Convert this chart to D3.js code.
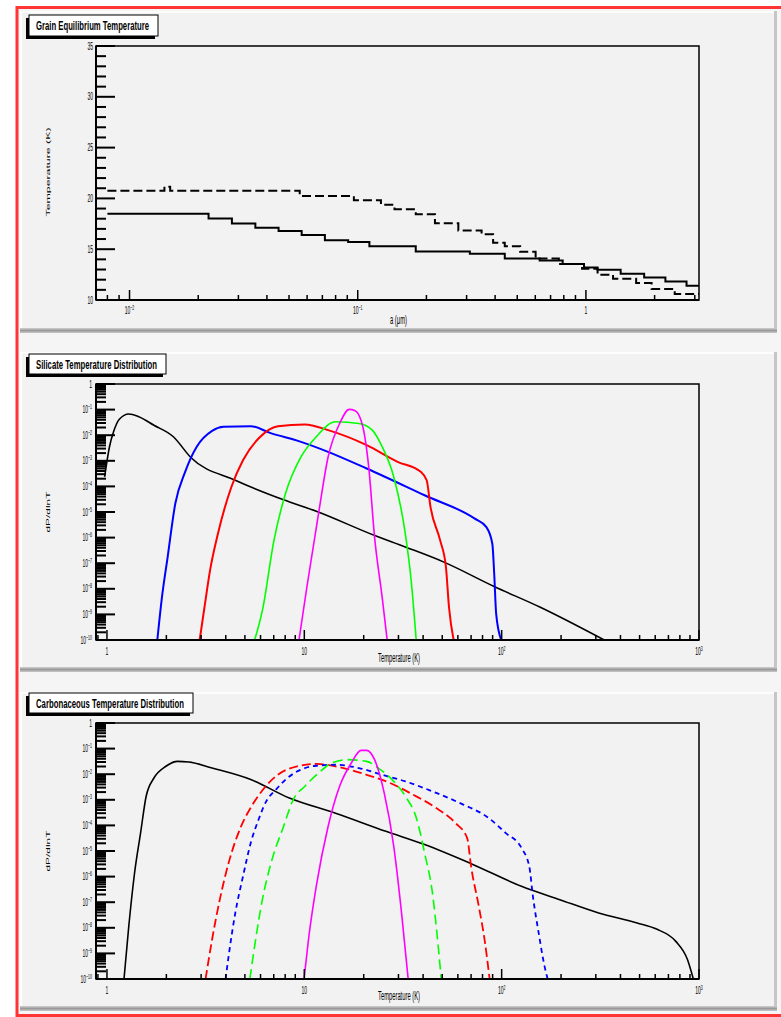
<!DOCTYPE html>
<html>
<head>
<meta charset="utf-8">
<script src="https://cdn.jsdelivr.net/npm/d3@7"></script>
<style>
html, body { margin: 0; padding: 0; background: #ffffff; }
svg { display: block; }
text { font-family: "Liberation Sans", Arial, Helvetica, sans-serif; fill: #000; }
</style>
</head>
<body>
<svg id="canvas" width="781" height="1017"></svg>
<script>
// ---------------- data ----------------
// Grain equilibrium temperature (K) vs grain radius a (um); step starts
const silEqA = [0.0080, 0.0222, 0.0281, 0.0356, 0.0450, 0.0568, 0.0718, 0.0908, 0.1125, 0.1796, 0.310, 0.441, 0.627, 0.791, 0.981, 1.125, 1.42, 1.80, 2.23, 2.76, 3.13];
const silEqT = [18.50, 18.02, 17.52, 17.12, 16.79, 16.39, 15.89, 15.70, 15.30, 14.77, 14.54, 14.08, 13.88, 13.55, 13.21, 12.98, 12.59, 12.22, 11.83, 11.40, 11.40];
const carEqA = [0.0080, 0.01422, 0.01507, 0.0557, 0.0962, 0.1264, 0.1449, 0.1796, 0.218, 0.276, 0.349, 0.392, 0.441, 0.515, 0.602, 0.761, 0.962, 1.125, 1.315, 1.66, 1.94, 2.45, 3.13];
const carEqT = [20.75, 21.15, 20.75, 20.23, 19.83, 19.37, 18.94, 18.44, 17.55, 16.85, 16.46, 15.63, 15.30, 14.74, 14.08, 13.55, 13.08, 12.49, 12.09, 11.67, 11.09, 10.60, 10.60];

// Silicate temperature distributions dP/dlnT
const silBlackT = [0.973, 1.03, 1.08, 1.155, 1.29, 1.45, 1.73, 2.17, 2.66, 4.47, 7.85, 11.5, 22.6, 32.5, 51, 91.6, 157, 331];
const silBlackP = [2.34e-4, 3.55e-3, 1.35e-2, 4.17e-2, 6.76e-2, 5.25e-2, 2.45e-2, 8.7e-3, 1.35e-3, 1.74e-4, 3.0e-5, 1.07e-5, 1.23e-6, 4.3e-7, 1.1e-7, 1.23e-8, 1.9e-9, 1e-10];
const silBlueT = [1.80, 1.90, 2.03, 2.22, 2.49, 2.85, 3.41, 3.90, 5.35, 6.70, 9.62, 13.2, 20.7, 40.7, 73.1, 83.7, 89.7, 91.7, 93.8, 99.5];
const silBlueP = [1e-10, 4.7e-9, 1.74e-7, 2.14e-5, 3.7e-4, 3.55e-3, 1.48e-2, 2.14e-2, 2.26e-2, 1.23e-2, 5.5e-3, 2.24e-3, 5.0e-4, 4.5e-5, 5.5e-6, 2.57e-6, 5.75e-7, 3.8e-8, 1.05e-9, 1e-10];
const silRedT = [2.95, 3.12, 3.33, 3.65, 4.27, 4.89, 5.86, 7.34, 10.07, 13.2, 20.7, 29.7, 38.9, 41.7, 43.6, 48.8, 52.2, 54.1, 57.1];
const silRedP = [1e-10, 1.9e-9, 5.25e-8, 1.41e-6, 9.5e-5, 1.05e-3, 7.4e-3, 2.26e-2, 2.63e-2, 1.58e-2, 4.1e-3, 9.1e-4, 3.7e-4, 1.74e-4, 1.58e-5, 7.8e-7, 7.1e-8, 1.9e-9, 1e-10];
const silGreenT = [5.60, 6.13, 7.02, 8.03, 9.62, 11.5, 14.4, 18.9, 22.1, 24.8, 28.4, 32.5, 34.8, 36.9];
const silGreenP = [1e-10, 1.41e-9, 7.8e-7, 5.25e-5, 1.41e-3, 8.7e-3, 3.35e-2, 2.88e-2, 1.58e-2, 3.55e-3, 2.34e-4, 1.41e-6, 2.1e-8, 1e-10];
const silMagT = [9.40, 10.3, 11.8, 13.2, 15.1, 16.9, 18.1, 19.8, 21.2, 22.7, 24.8, 26.3];
const silMagP = [1e-10, 1.15e-8, 8.5e-6, 1.41e-3, 2.88e-2, 0.102, 9.1e-2, 2.14e-2, 5.75e-4, 1.05e-6, 4.7e-9, 1e-10];

// Carbonaceous temperature distributions dP/dlnT
const carBlackT = [1.22, 1.29, 1.38, 1.48, 1.58, 1.73, 1.99, 2.27, 2.60, 3.41, 5.35, 8.40, 14.4, 25.9, 40.7, 70, 126, 197, 310, 486, 609, 763, 874, 936];
const carBlackP = [1e-10, 1.15e-8, 1.38e-6, 5.0e-5, 1.38e-3, 7.1e-3, 2.04e-2, 3.16e-2, 3.0e-2, 1.74e-2, 6.2e-3, 1.17e-3, 3.0e-4, 5.9e-5, 1.78e-5, 3.2e-6, 4.2e-7, 1.26e-7, 3.8e-8, 1.55e-8, 8.9e-9, 2.95e-9, 5.75e-10, 1e-10];
const carRedT = [3.16, 3.41, 3.73, 4.18, 4.78, 5.47, 6.27, 7.34, 9.2, 11.5, 15.8, 20.7, 27.1, 35.6, 46.6, 58.4, 66.9, 70, 76.6, 81.9, 86.9];
const carRedP = [1e-10, 3.5e-9, 1.26e-7, 4.6e-6, 9.1e-5, 6.5e-4, 2.88e-3, 9.5e-3, 2.04e-2, 2.51e-2, 1.74e-2, 9.5e-3, 4.6e-3, 1.58e-3, 4.8e-4, 1.23e-4, 3.2e-5, 2.5e-6, 6.9e-8, 3.5e-9, 1e-10];
const carBlueT = [3.99, 4.18, 4.47, 4.89, 5.35, 5.86, 6.41, 7.18, 8.21, 9.62, 11.5, 14.4, 18.9, 24.8, 32.5, 46.6, 63.9, 83.8, 105, 126, 138, 144, 154, 165, 171];
const carBlueP = [1e-10, 1.41e-9, 3.8e-8, 1.02e-6, 2.04e-5, 1.66e-4, 8.7e-4, 2.51e-3, 7.1e-3, 1.51e-2, 2.14e-2, 2.34e-2, 1.74e-2, 9.5e-3, 5.25e-3, 1.86e-3, 6.5e-4, 2.24e-4, 5.0e-5, 1.32e-5, 2.5e-6, 1.7e-7, 6.3e-9, 3.1e-10, 1e-10];
const carGreenT = [5.30, 5.60, 6.13, 6.86, 7.85, 8.79, 10.07, 11.8, 13.8, 16.5, 20.7, 23.7, 28.4, 32.5, 37.2, 40.7, 44.6, 47.7, 49.4];
const carGreenP = [1e-10, 1.9e-9, 1.26e-7, 4.6e-6, 9.1e-5, 1.02e-3, 3.4e-3, 1.12e-2, 2.75e-2, 3.7e-2, 3.16e-2, 1.74e-2, 5.25e-3, 1.38e-3, 1.66e-4, 8.3e-6, 2.3e-7, 1.9e-9, 1e-10];
const carMagT = [9.97, 10.5, 11.5, 13.2, 15.1, 17.3, 19.4, 20.7, 22.7, 25.4, 28.4, 31.1, 33.6];
const carMagP = [1e-10, 3.5e-9, 4.2e-7, 9.1e-5, 3.4e-3, 2.75e-2, 8.5e-2, 8.5e-2, 3.7e-2, 1.86e-3, 1.51e-5, 3.8e-8, 1e-10];

// Titles and axis labels
const padTitles = ["Grain Equilibrium Temperature", "Silicate Temperature Distribution", "Carbonaceous Temperature Distribution"];
const xTitles = ["a (\u03bcm)", "Temperature (K)", "Temperature (K)"];
const yTitles = ["Temperature (K)", "dP/dlnT", "dP/dlnT"];
const eqTempTicks = [10, 15, 20, 25, 30, 35];

// ---------------- drawing ----------------
const svg = d3.select("#canvas");
const SX = 0.5;           // horizontal glyph compression of the canvas text
const FX0 = 96, FX1 = 699; // frame left/right

// canvas border
svg.append("rect").attr("x", 17).attr("y", 7.5).attr("width", 800).attr("height", 1008)
  .attr("fill", "#f5f5f5").attr("stroke", "#ff3535").attr("stroke-width", 3);

const defs = svg.append("defs");
const grad = defs.append("linearGradient").attr("id", "padEdge").attr("x1", 0).attr("y1", 0).attr("x2", 0).attr("y2", 1);
grad.append("stop").attr("offset", "0%").attr("stop-color", "#d0d0d0");
grad.append("stop").attr("offset", "50%").attr("stop-color", "#9a9a9a");
grad.append("stop").attr("offset", "100%").attr("stop-color", "#c8c8c8");

function drawPad(y0, y1) {
  const g = svg.append("g");
  g.append("rect").attr("x", 20).attr("y", y0).attr("width", 757).attr("height", y1 - y0).attr("fill", "#f2f2f2");
  g.append("rect").attr("x", 20).attr("y", y0).attr("width", 757).attr("height", 2).attr("fill", "#fdfdfd");
  g.append("rect").attr("x", 20).attr("y", y0).attr("width", 2).attr("height", y1 - y0).attr("fill", "#fdfdfd");
  g.append("rect").attr("x", 774).attr("y", y0).attr("width", 3).attr("height", y1 - y0).attr("fill", "#c6c6c6");
  g.append("rect").attr("x", 20).attr("y", y1 - 5).attr("width", 757).attr("height", 5).attr("fill", "url(#padEdge)");
  return g;
}

function drawTitleBox(g, x, y, w, h, textW, str) {
  g.append("rect").attr("x", x - 3).attr("y", y + 3).attr("width", w).attr("height", h).attr("fill", "#000");
  g.append("rect").attr("x", x).attr("y", y).attr("width", w).attr("height", h)
    .attr("fill", "#fff").attr("stroke", "#000").attr("stroke-width", 1);
  g.append("text").attr("x", x + 7).attr("y", y + h / 2 + 4.5)
    .attr("font-size", 13).attr("font-weight", "bold")
    .attr("textLength", textW).attr("lengthAdjust", "spacingAndGlyphs").text(str);
}

function tickLabel(g, x, y, base, sup, anchor) {
  const t = g.append("text").attr("transform", `translate(${x},${y}) scale(${SX},1)`)
    .attr("text-anchor", anchor).attr("font-size", 10);
  t.append("tspan").text(base);
  if (sup !== null) t.append("tspan").attr("dy", -4).attr("font-size", 7).text(sup);
}

function powParts(k) {
  if (k === 0) return ["1", null];
  if (k === 1) return ["10", null];
  return ["10", String(k).replace("-", "\u2212")];
}

function logTicks(lo, hi) {
  const major = [], minor = [];
  for (let k = Math.floor(Math.log10(lo)) - 1; k <= Math.ceil(Math.log10(hi)); k++) {
    const v = Math.pow(10, k);
    if (v >= lo * 0.9999 && v <= hi * 1.0001) major.push(k);
    for (let m = 2; m <= 9; m++) {
      const mv = m * v;
      if (mv >= lo && mv <= hi) minor.push(mv);
    }
  }
  return { major, minor };
}

function drawFrame(g, top, bot) {
  g.append("rect").attr("x", FX0).attr("y", top).attr("width", FX1 - FX0).attr("height", bot - top)
    .attr("fill", "#f2f2f2").attr("stroke", "#000").attr("stroke-width", 1.5);
}

function drawAxesLines(g, top, bot) {
  g.append("line").attr("x1", FX0).attr("x2", FX0).attr("y1", top).attr("y2", bot)
    .attr("stroke", "#000").attr("stroke-width", 2);
  g.append("line").attr("x1", FX0).attr("x2", FX1).attr("y1", bot).attr("y2", bot)
    .attr("stroke", "#000").attr("stroke-width", 2.2);
}

function drawXLogAxis(g, x, bot, labelY) {
  const [lo, hi] = x.domain();
  const t = logTicks(lo, hi);
  t.minor.forEach(v => g.append("line").attr("x1", x(v)).attr("x2", x(v)).attr("y1", bot).attr("y2", bot - 5)
    .attr("stroke", "#000").attr("stroke-width", 1.5));
  t.major.forEach(k => {
    const px = x(Math.pow(10, k));
    g.append("line").attr("x1", px).attr("x2", px).attr("y1", bot).attr("y2", bot - 10)
      .attr("stroke", "#000").attr("stroke-width", 1.5);
    const [b, s] = powParts(k);
    tickLabel(g, px, labelY, b, s, "middle");
  });
}

function drawYLogAxis(g, y) {
  const [lo, hi] = y.domain();
  const t = logTicks(lo, hi);
  t.minor.forEach(v => g.append("line").attr("x1", FX0).attr("x2", FX0 + 10).attr("y1", y(v)).attr("y2", y(v))
    .attr("stroke", "#000").attr("stroke-width", 2));
  t.major.forEach(k => {
    const py = y(Math.pow(10, k));
    g.append("line").attr("x1", FX0).attr("x2", FX0 + 19).attr("y1", py).attr("y2", py)
      .attr("stroke", "#000").attr("stroke-width", 2);
    const [b, s] = powParts(k);
    tickLabel(g, 92, py + 3.5, b, s, "end");
  });
}

function axisTitles(g, xt, xtx, xty, xtw, yt, ytx, yty, ytl) {
  g.append("text").attr("x", xtx).attr("y", xty).attr("text-anchor", "middle").attr("font-size", 12)
    .attr("textLength", xtw).attr("lengthAdjust", "spacingAndGlyphs").text(xt);
  g.append("text").attr("transform", `translate(${ytx},${yty}) scale(${SX},1) rotate(-90)`)
    .attr("text-anchor", "middle").attr("font-size", 12)
    .attr("textLength", ytl).attr("lengthAdjust", "spacingAndGlyphs").text(yt);
}

// ---------- pad 1: equilibrium temperature ----------
{
  const g = drawPad(11, 333);
  const top = 46, bot = 300;
  const x = d3.scaleLog().domain([0.00713, 3.13]).range([FX0, FX1]);
  const y = d3.scaleLinear().domain([10, 35]).range([bot, top]);
  drawFrame(g, top, bot);

  const clip = defs.append("clipPath").attr("id", "clip1");
  clip.append("rect").attr("x", FX0).attr("y", top).attr("width", FX1 - FX0).attr("height", bot - top);
  const line = d3.line().x(d => x(d[0])).y(d => y(d[1])).curve(d3.curveStepAfter);
  const cg = g.append("g").attr("clip-path", "url(#clip1)");
  cg.append("path").attr("d", line(d3.zip(silEqA, silEqT))).attr("fill", "none")
    .attr("stroke", "#000").attr("stroke-width", 2);
  cg.append("path").attr("d", line(d3.zip(carEqA, carEqT))).attr("fill", "none")
    .attr("stroke", "#000").attr("stroke-width", 2).attr("stroke-dasharray", "9,4");

  // y ticks (linear)
  d3.range(11, 35).filter(v => v % 5 !== 0).forEach(v => g.append("line")
    .attr("x1", FX0).attr("x2", FX0 + 10).attr("y1", y(v)).attr("y2", y(v)).attr("stroke", "#000").attr("stroke-width", 2));
  eqTempTicks.forEach(v => {
    g.append("line").attr("x1", FX0).attr("x2", FX0 + 19).attr("y1", y(v)).attr("y2", y(v))
      .attr("stroke", "#000").attr("stroke-width", 2);
    tickLabel(g, 93, y(v) + 3.5, String(v), null, "end");
  });
  drawXLogAxis(g, x, bot, 313.5);
  drawAxesLines(g, top, bot);
  axisTitles(g, xTitles[0], 398.5, 324, 17, yTitles[0], 50, 172, 89);
  drawTitleBox(g, 29, 15, 129, 21, 113, padTitles[0]);
}

// ---------- pads 2 and 3: temperature distributions ----------
function distPad(idx, padY0, padY1, top, bot, series, labelY, titleY, boxY, boxW, textW) {
  const g = drawPad(padY0, padY1);
  const x = d3.scaleLog().domain([0.88, 1000]).range([FX0, FX1]);
  const y = d3.scaleLog().domain([1e-10, 1]).range([bot, top]);
  drawFrame(g, top, bot);

  const id = "clip" + idx;
  defs.append("clipPath").attr("id", id).append("rect")
    .attr("x", FX0).attr("y", top).attr("width", FX1 - FX0).attr("height", bot - top);
  const line = d3.line().x(d => x(d[0])).y(d => y(d[1])).curve(d3.curveMonotoneX);
  const cg = g.append("g").attr("clip-path", `url(#${id})`);
  series.forEach(s => {
    cg.append("path").attr("d", line(d3.zip(s.T, s.P))).attr("fill", "none")
      .attr("stroke", s.color).attr("stroke-width", s.width)
      .attr("stroke-dasharray", s.dash || null);
  });

  drawYLogAxis(g, y);
  drawXLogAxis(g, x, bot, labelY);
  drawAxesLines(g, top, bot);
  axisTitles(g, xTitles[idx - 1], 399, titleY, 42, yTitles[idx - 1], 50, (top + bot) / 2, 41);
  drawTitleBox(g, 29, boxY, boxW, 20, textW, padTitles[idx - 1]);
}

distPad(2, 352, 672, 384, 640, [
  { T: silBlackT, P: silBlackP, color: "#000000", width: 1.6 },
  { T: silBlueT, P: silBlueP, color: "#0000ff", width: 2 },
  { T: silRedT, P: silRedP, color: "#ff0000", width: 2 },
  { T: silGreenT, P: silGreenP, color: "#00ff00", width: 1.6 },
  { T: silMagT, P: silMagP, color: "#ff00ff", width: 1.6 }
], 655, 661.5, 354, 137, 121);

distPad(3, 692, 1011, 723, 979, [
  { T: carBlackT, P: carBlackP, color: "#000000", width: 1.6 },
  { T: carRedT, P: carRedP, color: "#ff0000", width: 1.8, dash: "9,4" },
  { T: carBlueT, P: carBlueP, color: "#0000ff", width: 1.8, dash: "5,4" },
  { T: carGreenT, P: carGreenP, color: "#00ff00", width: 1.6, dash: "10,5" },
  { T: carMagT, P: carMagP, color: "#ff00ff", width: 1.6 }
], 993.5, 1000, 693, 164, 148);
</script>
</body>
</html>
